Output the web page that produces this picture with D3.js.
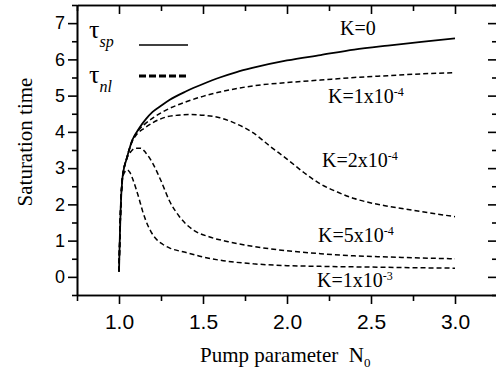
<!DOCTYPE html>
<html>
<head>
<meta charset="utf-8">
<script src="https://cdn.jsdelivr.net/npm/d3@7"></script>
<style>
  body { margin: 0; background: #fff; }
  svg { display: block; }
  .axis path, .axis line { stroke: #000; stroke-width: 1.6; }
  .tlab { font-family: "Liberation Sans", Arial, sans-serif; fill: #000; }
  .serif { font-family: "Liberation Serif", "Times New Roman", serif; fill: #000; }
</style>
</head>
<body>
<svg id="chart" width="496" height="376"></svg>
<script>

/*************************** data ***************************/

// pump parameter N0 and saturation time for each loss coefficient K
var n0_k0    = [1.0, 1.005, 1.01, 1.02, 1.03, 1.045, 1.06, 1.08, 1.1, 1.12, 1.16, 1.2, 1.25, 1.3, 1.4, 1.5, 1.6, 1.7, 1.8, 2.0, 2.2, 2.4, 2.6, 2.8, 3.0];
var tau_k0   = [0.15, 1.1, 1.9, 2.7, 3.0, 3.25, 3.5, 3.78, 3.95, 4.1, 4.35, 4.55, 4.72, 4.88, 5.12, 5.32, 5.5, 5.65, 5.77, 5.97, 6.12, 6.27, 6.38, 6.48, 6.58];

var n0_k1e4  = [1.0, 1.005, 1.01, 1.02, 1.03, 1.045, 1.06, 1.08, 1.1, 1.15, 1.2, 1.28, 1.4, 1.5, 1.6, 1.8, 2.0, 2.2, 2.4, 2.6, 2.8, 3.0];
var tau_k1e4 = [0.15, 1.1, 1.9, 2.7, 3.0, 3.25, 3.5, 3.78, 3.95, 4.2, 4.38, 4.6, 4.83, 4.98, 5.1, 5.27, 5.36, 5.43, 5.5, 5.55, 5.6, 5.63];

var n0_k2e4  = [1.0, 1.005, 1.01, 1.02, 1.03, 1.045, 1.06, 1.08, 1.1, 1.15, 1.2, 1.28, 1.35, 1.42, 1.5, 1.6, 1.7, 1.8, 1.9, 2.0, 2.1, 2.2, 2.3, 2.4, 2.5, 2.6, 2.8, 3.0];
var tau_k2e4 = [0.15, 1.1, 1.9, 2.7, 3.0, 3.25, 3.5, 3.75, 3.9, 4.1, 4.25, 4.41, 4.46, 4.48, 4.46, 4.39, 4.22, 3.97, 3.6, 3.25, 2.88, 2.56, 2.34, 2.16, 2.04, 1.95, 1.8, 1.66];

var n0_k5e4  = [1.0, 1.005, 1.01, 1.02, 1.03, 1.045, 1.07, 1.1, 1.13, 1.16, 1.2, 1.25, 1.3, 1.36, 1.44, 1.54, 1.65, 1.8, 2.0, 2.2, 2.4, 2.6, 2.8, 3.0];
var tau_k5e4 = [0.15, 1.1, 1.9, 2.7, 3.0, 3.25, 3.45, 3.55, 3.55, 3.42, 3.14, 2.65, 2.1, 1.66, 1.3, 1.1, 0.97, 0.84, 0.72, 0.64, 0.58, 0.55, 0.52, 0.5];

var n0_k1e3  = [1.0, 1.005, 1.01, 1.02, 1.035, 1.05, 1.065, 1.08, 1.1, 1.12, 1.14, 1.16, 1.19, 1.22, 1.26, 1.3, 1.4, 1.5, 1.6, 1.8, 2.0, 2.2, 2.5, 2.8, 3.0];
var tau_k1e3 = [0.15, 1.1, 1.9, 2.7, 2.9, 2.95, 2.88, 2.72, 2.45, 2.15, 1.82, 1.55, 1.25, 1.05, 0.9, 0.8, 0.67, 0.55, 0.46, 0.36, 0.31, 0.29, 0.27, 0.25, 0.24];

var x_major = [1.0, 1.5, 2.0, 2.5, 3.0];
var x_minor = [0.75, 1.25, 1.75, 2.25, 2.75, 3.25];
var y_major = [0, 1, 2, 3, 4, 5, 6, 7];
var y_minor = [-0.5, 0.5, 1.5, 2.5, 3.5, 4.5, 5.5, 6.5, 7.5];

/*************************** scales ***************************/

var svg = d3.select("#chart");
var m_left = 77, m_right = 497, m_top = 5, m_bottom = 295;

var x = d3.scaleLinear().domain([0.75, 3.25]).range([m_left, m_right]);
var y = d3.scaleLinear().domain([-0.5, 7.5]).range([m_bottom, m_top]);

/*************************** axes ***************************/

svg.append("g").attr("class", "axis tlab").attr("transform", "translate(0," + m_bottom + ")")
  .call(d3.axisBottom(x).tickValues(x_minor).tickSize(6).tickSizeOuter(0).tickFormat(""));
svg.append("g").attr("class", "axis tlab").attr("transform", "translate(0," + m_bottom + ")")
  .call(d3.axisBottom(x).tickValues(x_major).tickSize(9).tickSizeOuter(0).tickPadding(10).tickFormat(d3.format(".1f")))
  .selectAll("text").style("font-size", "21px");

svg.append("g").attr("class", "axis").attr("transform", "translate(0," + m_top + ")")
  .call(d3.axisTop(x).tickValues(x_minor).tickSize(-6).tickSizeOuter(0).tickFormat(""));
svg.append("g").attr("class", "axis").attr("transform", "translate(0," + m_top + ")")
  .call(d3.axisTop(x).tickValues(x_major).tickSize(-9).tickSizeOuter(0).tickFormat(""));

svg.append("g").attr("class", "axis tlab").attr("transform", "translate(" + m_left + ",0)")
  .call(d3.axisLeft(y).tickValues(y_minor).tickSize(5).tickSizeOuter(0).tickFormat(""));
svg.append("g").attr("class", "axis tlab").attr("transform", "translate(" + m_left + ",0)")
  .call(d3.axisLeft(y).tickValues(y_major).tickSize(9).tickSizeOuter(0).tickPadding(3).tickFormat(d3.format("d")))
  .selectAll("text").style("font-size", "18px");

svg.append("g").attr("class", "axis").attr("transform", "translate(" + m_right + ",0)")
  .call(d3.axisRight(y).tickValues(y_minor).tickSize(-5).tickSizeOuter(0).tickFormat(""));
svg.append("g").attr("class", "axis").attr("transform", "translate(" + m_right + ",0)")
  .call(d3.axisRight(y).tickValues(y_major).tickSize(-9).tickSizeOuter(0).tickFormat(""));

svg.append("text").attr("class", "serif")
  .attr("transform", "translate(32,142) rotate(-90)")
  .attr("text-anchor", "middle").style("font-size", "21px")
  .text("Saturation time");

var xt = svg.append("text").attr("class", "serif")
  .attr("x", 200).attr("y", 362).style("font-size", "21px").attr("xml:space", "preserve");
xt.append("tspan").text("Pump parameter  N");
xt.append("tspan").attr("dy", 5).style("font-size", "13px").text("0");

/*************************** curves ***************************/

var line = d3.line()
  .x(function(d){ return x(d[0]); })
  .y(function(d){ return y(d[1]); })
  .curve(d3.curveMonotoneX);

var series = [
  { n0: n0_k0,   tau: tau_k0,   dash: null },
  { n0: n0_k1e4, tau: tau_k1e4, dash: "5,3" },
  { n0: n0_k2e4, tau: tau_k2e4, dash: "5,3" },
  { n0: n0_k5e4, tau: tau_k5e4, dash: "5,3" },
  { n0: n0_k1e3, tau: tau_k1e3, dash: "5,3" }
];

svg.append("g").selectAll("path").data(series.slice().reverse()).enter().append("path")
  .attr("d", function(s){ return line(d3.zip(s.n0, s.tau)); })
  .attr("fill", "none").attr("stroke", "#000")
  .attr("stroke-width", function(s){ return s.dash ? 1.5 : 1.8; })
  .attr("stroke-dasharray", function(s){ return s.dash; });

/*************************** curve labels ***************************/

var k_labels = [
  { x: 340, y: 35,  base: "K=0",    sup: null },
  { x: 328, y: 103, base: "K=1x10", sup: "-4" },
  { x: 322, y: 167, base: "K=2x10", sup: "-4" },
  { x: 318, y: 242, base: "K=5x10", sup: "-4" },
  { x: 317, y: 287, base: "K=1x10", sup: "-3" }
];

k_labels.forEach(function(k){
  var t = svg.append("text").attr("class", "serif")
    .attr("x", k.x).attr("y", k.y).style("font-size", "20px");
  t.append("tspan").text(k.base);
  if(k.sup){ t.append("tspan").attr("dy", -7).style("font-size", "12px").text(k.sup); }
});

/*************************** legend ***************************/

var leg = [
  { y: 38, sub: "sp", ly: 45, dash: null, w: 1.5 },
  { y: 83, sub: "nl", ly: 76, dash: "7,3", w: 3 }
];

leg.forEach(function(l){
  var t = svg.append("text").attr("class", "serif").attr("x", 89).attr("y", l.y).style("font-size", "26px");
  t.append("tspan").text("τ");
  t.append("tspan").attr("dy", 9).style("font-size", "16px").style("font-style", "italic").text(l.sub);
  svg.append("line").attr("x1", 139).attr("x2", 188).attr("y1", l.ly).attr("y2", l.ly)
    .attr("stroke", "#000").attr("stroke-width", l.w).attr("stroke-dasharray", l.dash);
});

</script>
</body>
</html>
